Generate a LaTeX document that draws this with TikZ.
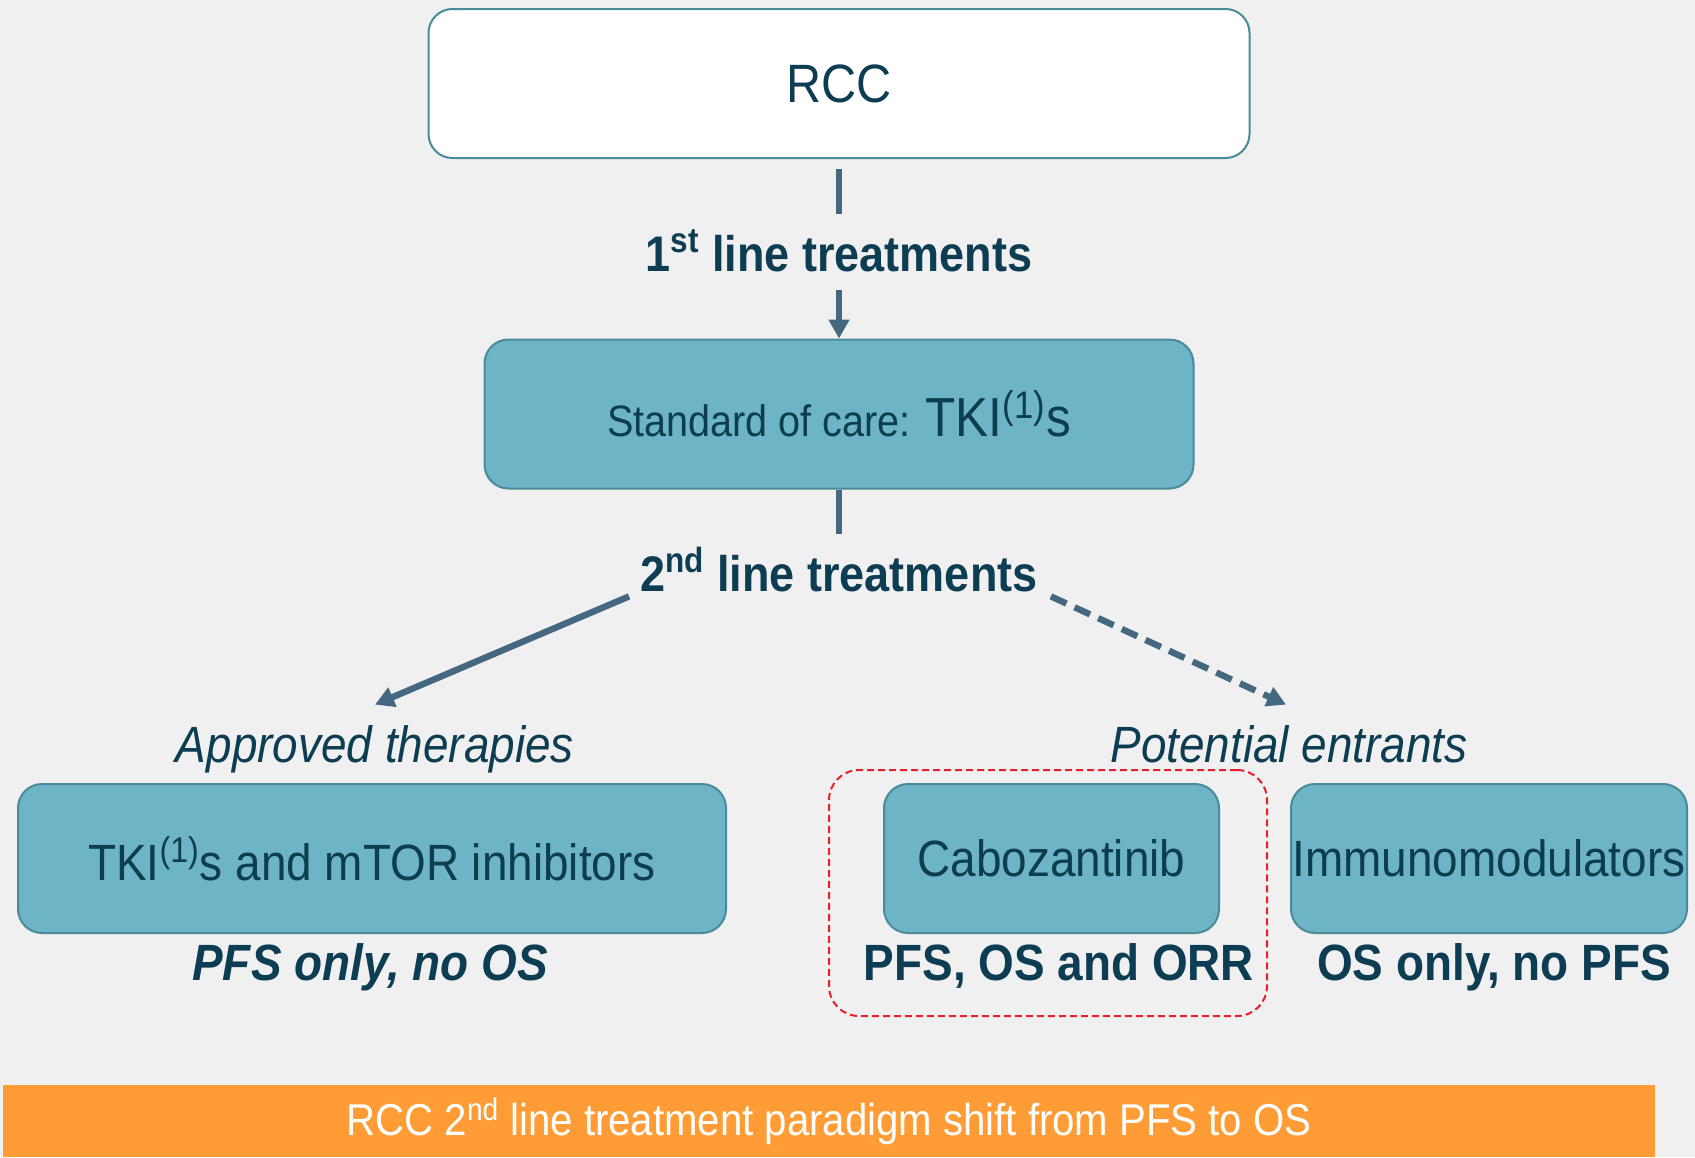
\documentclass[tikz,border=0pt]{standalone}
\usepackage{fontspec}
\setmainfont{Liberation Sans}[FakeStretch=0.9]
\usetikzlibrary{arrows.meta}

\definecolor{bggray}{HTML}{F0F0F0}
\definecolor{boxfill}{HTML}{6DB4C6}
\definecolor{boxedge}{HTML}{4A8B9A}
\definecolor{navy}{HTML}{0D3D52}
\definecolor{slate}{HTML}{43687F}
\definecolor{banner}{HTML}{FF9C35}
\definecolor{framered}{HTML}{E8202A}

\begin{document}
\begin{tikzpicture}[
	x=0.5pt, y=-0.5pt,
	>={Triangle[length=9.5pt,width=10pt]},
	box/.style={draw=boxedge, line width=1pt, fill=boxfill, rounded corners=12pt,
		text=navy, minimum height=74.5pt, inner sep=0pt,
		font=\fontsize{25.5}{30}\selectfont},
	lbl/.style={text=navy, inner sep=0pt, text height=18pt, text depth=5pt, anchor=base},
	link/.style={draw=slate, line width=3.2pt}
	]
	\useasboundingbox[fill=bggray] (0,0) rectangle (1695,1157);

	% boxes
	\node[box, fill=white, minimum width=410.5pt, font=\fontsize{27}{32}\selectfont] (rcc) at (839,83.5) {RCC};
	\node[box, minimum width=354.5pt] (soc) at (839,414)
		{{\fontsize{22}{26}\selectfont Standard of care: }{\fontsize{27.5}{32}\selectfont TKI\textsuperscript{(1)}s}};
	\node[box, minimum width=354pt] (tkimtor) at (372,858.5) {TKI\textsuperscript{(1)}s and mTOR inhibitors};
	\node[box, minimum width=167.5pt] (cabo) at (1051.5,858.5) {Cabozantinib};
	\node[box, minimum width=198pt] (immuno) at (1489,858.5) {Immunomodulators};

	% labels
	\node[lbl, font=\fontsize{25}{30}\selectfont\bfseries] (first) at (839,271) {1\textsuperscript{st} line treatments};
	\node[lbl, font=\fontsize{25}{30}\selectfont\bfseries] (second) at (839,591) {2\textsuperscript{nd} line treatments};
	\node[lbl, font=\fontsize{25.5}{30}\selectfont\itshape] (approved) at (375,762) {Approved therapies};
	\node[lbl, font=\fontsize{25.5}{30}\selectfont\itshape] (potential) at (1289,762) {Potential entrants};
	\node[lbl, font=\fontsize{25.5}{30}\selectfont\bfseries\itshape] (pfsonly) at (370,980) {PFS only, no OS};
	\node[lbl, font=\fontsize{25.5}{30}\selectfont\bfseries] (cabores) at (1059,980) {PFS, OS and ORR};
	\node[lbl, font=\fontsize{25.5}{30}\selectfont\bfseries] (osonly) at (1494,980) {OS only, no PFS};

	% cabozantinib highlight
	\node[draw=framered, line width=1pt, dash pattern=on 3.5pt off 2pt, rounded corners=15pt,
		minimum width=219pt, minimum height=123pt] (shortlist) at (1048,893) {};

	% connectors
	\draw[link, shorten <=5pt, shorten >=10.5pt] (rcc) -- (first);
	\draw[link, ->, shorten <=4.5pt] (first) -- (soc);
	\draw[link, shorten >=10.5pt] (soc) -- (second);
	\draw[link, ->] ([xshift=-5.5pt,yshift=2.5pt]second.south west) -- ([yshift=10.5pt]approved.north);
	\draw[link, ->, dash pattern=on 8.5pt off 4.5pt] ([xshift=6.5pt,yshift=2.5pt]second.south east) -- ([xshift=-1.5pt,yshift=10.5pt]potential.north);

	% bottom banner
	\node[fill=banner, text=white, minimum width=826pt, minimum height=36pt, inner sep=0pt,
		font=\fontsize{22.3}{26}\selectfont] (shift) at (829,1121)
		{RCC 2\textsuperscript{nd} line treatment paradigm shift from PFS to OS};
\end{tikzpicture}
\end{document}
